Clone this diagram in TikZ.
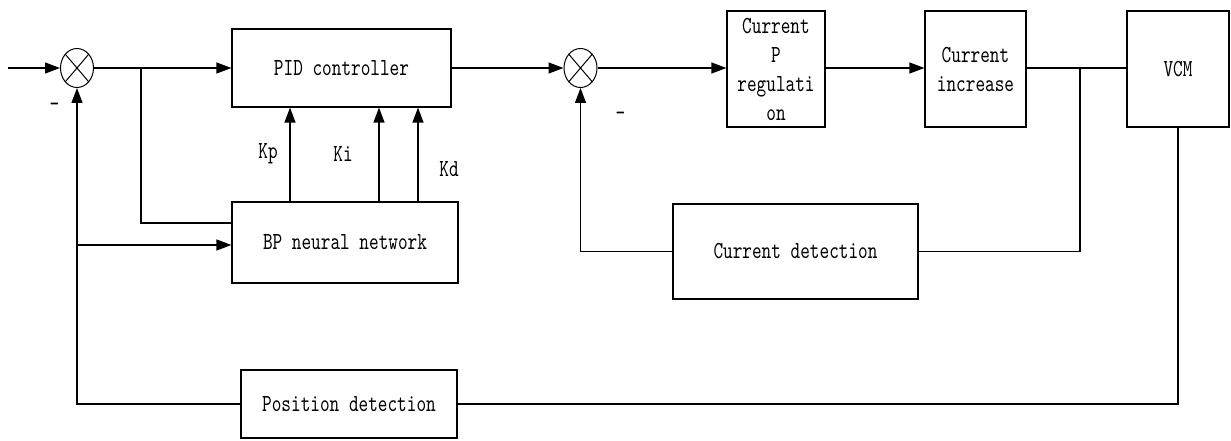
\documentclass[tikz,border=0pt]{standalone}
\usepackage{fontspec}
\usetikzlibrary{arrows.meta,shapes.geometric}
\newfontfamily\dfont{lmmono10-regular.otf}[FakeStretch=0.75]
\begin{document}
\begin{tikzpicture}[x=1pt,y=-1pt,line width=1.2pt,
  blk/.style={draw,line width=1.2pt,inner sep=0pt,font=\dfont\fontsize{24.5}{29}\selectfont,align=center},
  sumj/.style={draw,ellipse,minimum width=33pt,minimum height=39pt,inner sep=0pt,line width=1pt},
  arr/.style={-{Triangle[length=15pt,width=11pt]}},
  lbl/.style={inner sep=0pt,font=\dfont\fontsize{24.5}{29}\selectfont}]
\useasboundingbox (0,0) rectangle (1231,441);
% summing junctions
\node[sumj] (s1) at (77,68) {};
\node[sumj] (s2) at (580.5,68) {};
\foreach \s in {s1,s2}{
  \draw[line width=1pt] (\s.north west) -- (\s.south east);
  \draw[line width=1pt] (\s.north east) -- (\s.south west);
}
% blocks
\node[blk,minimum width=219pt,minimum height=78pt] (pid) at (341.5,68) {PID controller};
\node[blk,minimum width=226pt,minimum height=81pt] (bp) at (345,242.5) {BP neural network};
\node[blk,minimum width=98pt,minimum height=116pt] (curp) at (776,69) {Current\\P\\regulati\\on};
\node[blk,minimum width=101pt,minimum height=116pt] (curinc) at (975.5,69) {Current\\increase};
\node[blk,minimum width=102pt,minimum height=116pt] (vcm) at (1178,69) {VCM};
\node[blk,minimum width=245pt,minimum height=95pt] (curdet) at (795.5,251.5) {Current detection};
\node[blk,minimum width=216pt,minimum height=68pt] (posdet) at (349,404) {Position detection};
% labels
\node[lbl] (m1) at (54.5,107) {-};
\node[lbl] (m2) at (620.5,116) {-};
\node[lbl] (kpl) at (268,154) {Kp};
\node[lbl] (kil) at (343,154) {Ki};
\node[lbl] (kdl) at (449,169) {Kd};
% coordinates
\coordinate (in) at (8,68);
\coordinate (b1) at (141,68);
\coordinate (b1d) at (141,223);
\coordinate (b2) at (77,245);
\coordinate (b3) at (1080,68);
\coordinate (kp) at (290,0);
\coordinate (ki) at (379,0);
\coordinate (kd) at (418,0);
% connectors
\draw[arr] (in) -- (s1.west);
\draw[arr] (s1.east) -- (pid.west |- s1.east);
\draw (b1) -- (b1d) -- (bp.west |- b1d);
\draw[arr] (b2) -- (bp.west |- b2);
\draw[arr] (posdet.west) -| (s1.south);
\draw (vcm.south) |- (posdet.east);
\draw[arr] (bp.north -| kp) -- (pid.south -| kp);
\draw[arr] (bp.north -| ki) -- (pid.south -| ki);
\draw[arr] (bp.north -| kd) -- (pid.south -| kd);
\draw[arr] (pid.east |- s2.west) -- (s2.west);
\draw[arr] (s2.east) -- (curp.west |- s2.east);
\draw[arr] (curp.east |- s2.east) -- (curinc.west |- s2.east);
\draw (curinc.east |- s2.east) -- (vcm.west |- s2.east);
\draw (b3) |- (curdet.east);
\draw[arr] (curdet.west) -| (s2.south);
\end{tikzpicture}
\end{document}
